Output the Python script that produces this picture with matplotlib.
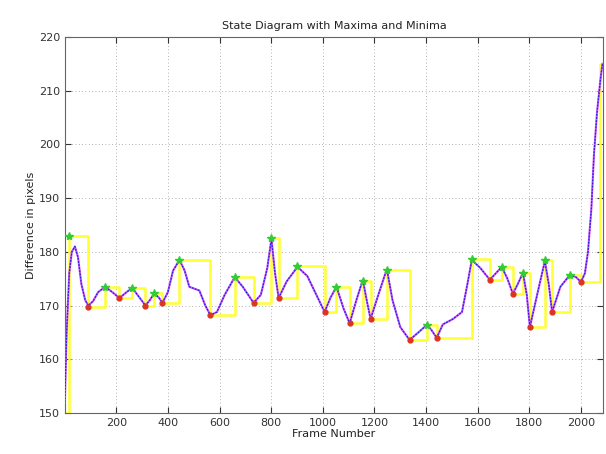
import numpy as np
import matplotlib
matplotlib.use('Agg')
import matplotlib.pyplot as plt

# smoothed difference signal (frame, pixels)
curve_x = [1, 8, 18, 28, 40, 52, 65, 80, 92, 110, 130, 157, 185, 212, 240, 262, 290, 313,
           330, 347, 365, 379, 400, 420, 445, 465, 483, 522, 545, 565, 590, 620, 659, 690,
           732, 760, 785, 801, 815, 829, 860, 902, 940, 975, 1007, 1030, 1053, 1080, 1104,
           1130, 1155, 1170, 1185, 1215, 1248, 1270, 1300, 1336, 1370, 1403, 1420, 1441,
           1465, 1504, 1539, 1560, 1577, 1610, 1647, 1670, 1693, 1715, 1736, 1755, 1775,
           1790, 1802, 1830, 1860, 1875, 1888, 1920, 1957, 1980, 2000, 2015, 2027, 2040,
           2050, 2062, 2075, 2083]
curve_y = [152, 165, 176, 180, 181, 179, 174, 171, 170, 170.8, 172.5, 173.5, 172.5, 171.4,
           172.5, 173.3, 171.5, 170, 171, 172.3, 171.5, 170.5, 172.5, 176.5, 178.5, 176.5,
           173.5, 172.8, 170, 168.2, 168.8, 172, 175.3, 173.5, 170.5, 172, 177, 182.4, 176,
           171.4, 174.5, 177.2, 175.5, 172, 168.8, 171.5, 173.5, 169.5, 166.7, 171, 174.8,
           171, 167.5, 172, 176.8, 171, 166, 163.6, 165, 166.4, 165.5, 164.0, 166.5, 167.5,
           168.8, 174, 178.5, 177, 174.8, 176, 177.2, 175, 172.2, 174, 176.1, 172, 166, 172,
           178.3, 174, 168.8, 173.5, 175.7, 175.3, 174.4, 176, 180, 188, 198, 206, 212, 215]

# maxima and minima
max_x = [18, 157, 262, 347, 445, 659, 801, 902, 1053, 1155, 1248, 1403, 1577, 1693, 1775, 1860, 1957]
max_y = [183, 173.5, 173.3, 172.4, 178.5, 175.3, 182.5, 177.3, 173.5, 174.6, 176.7, 166.4,
         178.6, 177.2, 176.1, 178.4, 175.7]
min_x = [92, 212, 313, 379, 565, 732, 829, 1007, 1104, 1185, 1336, 1441, 1647, 1736, 1802, 1888, 2000]
min_y = [169.8, 171.4, 169.9, 170.5, 168.2, 170.5, 171.4, 168.8, 166.7, 167.5, 163.6, 164.0,
         174.8, 172.2, 166.0, 168.8, 174.4]

# state diagram: start / end states + extrema
state_start = (1, 150)
state_end = (2075, 215)
last_frame = 2083

pts = sorted(list(zip(max_x, max_y)) + list(zip(min_x, min_y)))
state_x = [state_start[0]] + [p[0] for p in pts] + [state_end[0], last_frame]
state_y = [state_start[1]] + [p[1] for p in pts] + [state_end[1], state_end[1]]

plt.rcParams['font.family'] = ['DejaVu Sans']
fig = plt.figure(figsize=(6.06, 4.54), dpi=100)
ax = fig.add_axes([0.107, 0.0903, 0.888, 0.8282])

ax.plot(state_x, state_y, color='#ffff33', linewidth=1.8, drawstyle='steps-post', zorder=2)
ax.plot(curve_x, curve_y, color='#cc55ff', linewidth=1.5, zorder=3)
ax.plot(curve_x, curve_y, color='#2222dd', linewidth=0.9, linestyle=(0, (1.5, 1)), zorder=4)
ax.plot(max_x, max_y, '*', color='#33cc33', markersize=6, zorder=5)
ax.plot(min_x, min_y, 'o', color='#dd3322', markersize=3.5, zorder=5)

ax.set_xlim(1, 2085)
ax.set_ylim(150, 220)
ax.set_xticks(np.arange(200, 2001, 200))
ax.set_yticks(np.arange(150, 221, 10))
ax.grid(True, linestyle=(0, (1, 3)), color='#999999', linewidth=0.6)
ax.tick_params(direction='in', length=4, top=True, right=True, labelsize=8,
               colors='#333333', width=0.8)
for s in ax.spines.values():
    s.set_color('#666666')

ax.set_title('State Diagram with Maxima and Minima', fontsize=8, color='#222222')
ax.set_xlabel('Frame Number', fontsize=8, color='#222222', labelpad=1)
ax.set_ylabel('Difference in pixels', fontsize=8, color='#222222', labelpad=2)

fig.savefig('out.png', dpi=100)
